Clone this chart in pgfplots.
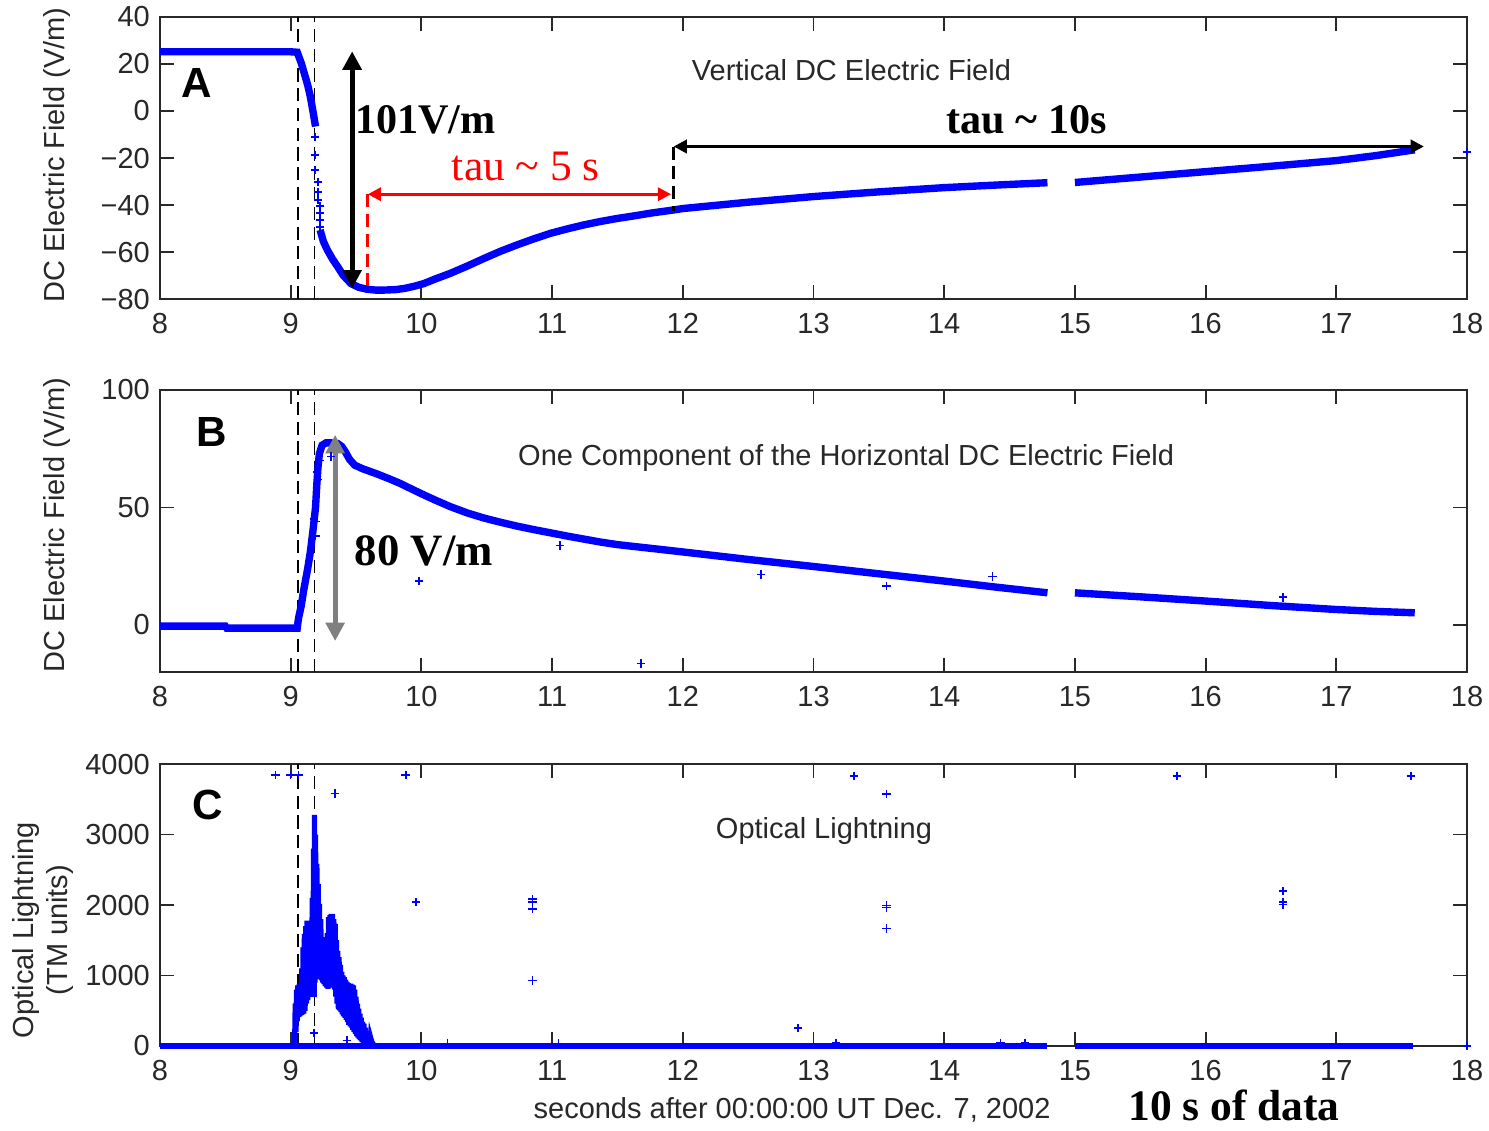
\documentclass[border=0pt]{standalone}
\usepackage{fontspec}
\setmainfont{Liberation Sans}
\newfontfamily\annot{Liberation Serif}
\usepackage{pgfplots}
\pgfplotsset{compat=1.18}
\usetikzlibrary{arrows.meta}
\definecolor{mblue}{RGB}{0,0,255}
\definecolor{axgray}{RGB}{40,40,40}
\definecolor{arrgray}{RGB}{128,128,128}

\pgfplotsset{
  panel/.style={
    scale only axis, width=17.4267cm, height=3.76cm, anchor=north west,
    xmin=8, xmax=18, xtick={8,...,18},
    xticklabels={8,9,10,11,12,13,14,15,16,17,18},
    tick align=inside, major tick length=5.3pt,
    axis line style={axgray, line width=0.7pt},
    tick style={axgray, line width=0.7pt},
    ticklabel style={text=axgray, font=\fontsize{11}{13}\selectfont},
    xticklabel style={yshift=-1.5pt},
    clip=false,
  },
  band/.style={mblue, line width=2.8pt, no marks},
  pts/.style={only marks, mark=+, mark size=1.6pt, mblue, mark options={line width=0.6pt}},
}
\tikzset{
  vdash/.style={black, line width=0.65pt, dash pattern=on 5pt off 2.5pt},
  lett/.style={font=\fontsize{16}{18}\selectfont\bfseries},
  ttl/.style={text=axgray, font=\fontsize{11}{13}\selectfont},
}

\begin{document}
\fontsize{11}{13}\selectfont
\begin{tikzpicture}
\path[use as bounding box] (0,0) rectangle (19.8533,-15.0667);

% ---------- A: vertical field
\begin{axis}[panel, at={(2.1333cm,-0.2267cm)},
  ymin=-80, ymax=40, ytick={-80,-60,...,40},
  yticklabels={−80,−60,−40,−20,0,20,40}]
\draw[vdash] (axis cs:9.055,-80) -- (axis cs:9.055,40);
\draw[vdash] (axis cs:9.182,-80) -- (axis cs:9.182,40);
\addplot[band] coordinates {
(8.00,25.2) (8.50,25.2) (9.00,25.2) (9.05,25.0) (9.08,20.5) (9.10,16.8)
(9.13,11.0) (9.15,6.2) (9.17,0.0) (9.19,-6.6)
};
\addplot[band] coordinates {
(9.225,-50.6) (9.25,-55.5) (9.28,-59.1) (9.32,-63.0) (9.36,-66.3) (9.40,-69.8)
(9.46,-73.4) (9.52,-75.0) (9.58,-75.8) (9.65,-76.2) (9.71,-76.2) (9.80,-76.0)
(9.87,-75.5) (9.95,-74.5) (10.02,-73.4) (10.10,-71.6) (10.22,-69.1) (10.35,-66.0)
(10.48,-62.7) (10.60,-59.8) (10.73,-57.0) (10.86,-54.4) (10.99,-52.0) (11.12,-50.1)
(11.24,-48.5) (11.37,-47.0) (11.50,-45.7) (11.63,-44.6) (11.76,-43.4) (11.93,-42.1)
(12.00,-41.5) (12.50,-38.8) (13.00,-36.4) (13.50,-34.4) (14.00,-32.6) (14.40,-31.5)
(14.79,-30.5)
};
\addplot[band] coordinates {
(15.00,-30.4) (15.50,-28.1) (16.00,-25.8) (16.50,-23.5) (17.00,-21.1) (17.30,-19.0)
(17.60,-16.5)
};
\addplot[pts] coordinates {
(9.186,-11.1) (9.186,-18.7) (9.186,-25.1) (9.209,-30.2) (9.209,-34.5) (9.209,-37.9)
(9.224,-40.5) (9.224,-43.4) (9.224,-46.4) (9.224,-49.4) (18.0,-17.4)
};
\draw[black, line width=1.9pt, {Triangle[length=7pt,width=7pt]}-{Triangle[length=7pt,width=7pt]}]
  (axis cs:9.47,25.4) -- (axis cs:9.47,-75.5);
\draw[red, line width=1.2pt, dash pattern=on 5pt off 2.5pt] (axis cs:9.59,-35.4) -- (axis cs:9.59,-76.2);
\draw[red, line width=1.1pt, {Triangle[length=5pt,width=5pt]}-{Triangle[length=5pt,width=5pt]}]
  (axis cs:9.59,-35.4) -- (axis cs:11.91,-35.4);
\draw[black, line width=1.1pt, dash pattern=on 5pt off 2.5pt] (axis cs:11.93,-15.1) -- (axis cs:11.93,-42.4);
\draw[black, line width=1.2pt, {Triangle[length=5pt,width=5pt]}-{Triangle[length=5pt,width=5pt]}]
  (axis cs:11.93,-15.1) -- (axis cs:17.67,-15.1);
\node[lett] at (axis cs:8.283,11.9) {A};
\node[ttl] at (axis cs:13.29,17.4) {Vertical DC Electric Field};
\node[font=\annot\bfseries\fontsize{16}{18}\selectfont] at (axis cs:10.03,-3.8) {101V/m};
\node[font=\annot\bfseries\fontsize{16}{18}\selectfont] at (axis cs:14.63,-3.8) {tau \textasciitilde\ 10s};
\node[red, font=\annot\fontsize{16.5}{18}\selectfont] at (axis cs:10.80,-23.8) {tau \textasciitilde\ 5 s};
\node[rotate=90, ttl] at (rel axis cs:-0.0788,0.511) {DC Electric Field (V/m)};
\end{axis}

% ---------- B: horizontal field
\begin{axis}[panel, at={(2.1333cm,-5.2cm)},
  ymin=-20, ymax=100, ytick={0,50,100}, yticklabels={0,50,100}]
\draw[vdash] (axis cs:9.055,-20) -- (axis cs:9.055,100);
\draw[vdash] (axis cs:9.182,-20) -- (axis cs:9.182,100);
\addplot[band] coordinates {
(8.00,-0.5) (8.50,-0.5) (8.51,-1.3) (9.05,-1.3)
(9.06,3.0) (9.08,8.0) (9.10,15.0) (9.13,24.0) (9.15,31.0) (9.17,40.0) (9.19,50.0)
(9.20,60.0) (9.21,68.0) (9.22,73.0) (9.24,76.5) (9.27,77.5) (9.31,77.5) (9.36,77.2)
(9.39,76.0) (9.42,73.5) (9.45,70.5) (9.49,68.0) (9.55,66.5) (9.65,64.5) (9.75,62.3)
(9.84,60.2) (9.92,58.0) (10.01,55.6) (10.10,53.3) (10.22,50.4) (10.35,47.7)
(10.48,45.5) (10.60,43.8) (10.73,42.1) (10.86,40.6) (10.99,39.2) (11.12,37.8)
(11.24,36.6) (11.37,35.3) (11.50,34.2) (11.76,32.6) (12.00,31.1) (12.50,27.9)
(13.00,24.9) (13.50,21.8) (14.00,18.7) (14.40,16.1) (14.79,13.7)
};
\addplot[band] coordinates {
(15.00,13.7) (15.50,12.0) (16.00,10.2) (16.50,8.3) (17.00,6.6) (17.30,5.8) (17.60,5.2)
};
\addplot[pts] coordinates {
(9.19,44) (9.19,38) (9.20,65) (9.21,62) (9.22,70) (9.31,71.7) (9.18,45)
(9.98,18.7) (11.06,33.9) (11.68,-16.3) (12.60,21.5) (13.56,16.5) (14.37,20.7) (16.59,11.8)
};
\draw[arrgray, line width=1.9pt, {Triangle[length=7pt,width=7pt]}-{Triangle[length=7pt,width=7pt]}]
  (axis cs:9.34,80.9) -- (axis cs:9.34,-6.8);
\node[lett] at (axis cs:8.398,82.1) {B};
\node[ttl] at (axis cs:13.25,71.1) {One Component of the Horizontal DC Electric Field};
\node[font=\annot\bfseries\fontsize{17}{19}\selectfont] at (axis cs:10.02,31.5) {80 V/m};
\node[rotate=90, ttl] at (rel axis cs:-0.0788,0.521) {DC Electric Field (V/m)};
\end{axis}

% ---------- C: optical lightning
\begin{axis}[panel, at={(2.1333cm,-10.1867cm)},
  ymin=0, ymax=4000, ytick={0,1000,...,4000}, yticklabels={0,1000,2000,3000,4000}]
\draw[vdash] (axis cs:9.055,0) -- (axis cs:9.055,4000);
\draw[vdash] (axis cs:9.182,0) -- (axis cs:9.182,4000);
\addplot[band, line width=2.6pt] coordinates {(8.00,0) (14.79,0)};
\addplot[band, line width=2.6pt] coordinates {(15.00,0) (17.59,0)};
\addplot[mblue, line width=2pt, no marks] coordinates {
(9.030,0) (9.035,600) (9.040,200) (9.045,800) (9.050,350) (9.055,860) (9.060,411)
(9.065,880) (9.070,420) (9.075,883) (9.080,440) (9.085,1100) (9.090,450) (9.095,1400)
(9.100,458) (9.105,1590) (9.110,500) (9.115,1700) (9.120,600) (9.125,1780) (9.130,650)
(9.135,1780) (9.140,741) (9.145,1780) (9.150,720) (9.155,1780) (9.160,700) (9.165,2100)
(9.170,694) (9.175,2800) (9.180,694) (9.182,3278) (9.185,900) (9.190,3000) (9.195,950)
(9.200,2583) (9.205,978) (9.210,2300) (9.215,960) (9.220,2017) (9.225,950) (9.230,1800)
(9.235,930) (9.240,1544) (9.245,900) (9.250,1500) (9.255,880) (9.260,1460) (9.265,850)
(9.270,1450) (9.275,830) (9.280,1600) (9.285,812) (9.290,1828) (9.295,830) (9.300,1860)
(9.305,836) (9.310,1875) (9.315,840) (9.320,1875) (9.325,830) (9.330,1800) (9.335,800)
(9.340,1733) (9.345,700) (9.350,1500) (9.355,600) (9.360,1350) (9.365,520) (9.370,1261)
(9.375,505) (9.380,1150) (9.385,480) (9.390,1050) (9.395,450) (9.400,1000) (9.405,420)
(9.410,978) (9.415,400) (9.420,940) (9.425,370) (9.430,910) (9.435,340) (9.440,890)
(9.445,300) (9.450,883) (9.455,280) (9.460,883) (9.465,260) (9.470,870) (9.475,230)
(9.480,860) (9.485,200) (9.490,800) (9.495,170) (9.500,700) (9.505,140) (9.510,600)
(9.515,120) (9.520,530) (9.525,100) (9.530,460) (9.535,80) (9.540,400) (9.545,60)
(9.550,340) (9.555,40) (9.560,316) (9.565,30) (9.570,260) (9.575,20) (9.580,210)
(9.585,10) (9.590,170) (9.595,0) (9.600,140) (9.605,0) (9.610,128) (9.620,60)
(9.630,30) (9.640,0)
};
\addplot[pts] coordinates {
(8.885,3844) (9.00,3844) (9.06,3844) (9.88,3844) (9.34,3584) (9.18,184) (9.43,80)
(9.96,2040) (10.85,2087) (10.85,2040) (10.85,1946) (10.85,930) (10.20,33) (11.05,33)
(13.31,3831) (13.56,3572) (13.56,1995) (13.56,1962) (13.56,1666) (12.88,254)
(15.78,3831) (16.59,2198) (16.59,2042) (16.59,2009) (17.57,3831) (18.00,0)
(13.17,40) (14.43,40) (14.62,40)
};
\node[lett] at (axis cs:8.367,3418) {C};
\node[ttl] at (axis cs:13.08,3050) {Optical Lightning};
\node[rotate=90, ttl, align=center] at (rel axis cs:-0.0895,0.411) {Optical Lightning\\(TM units)};
\node[ttl] at (rel axis cs:0.4836,-0.227) {seconds after 00:00:00 UT Dec. 7, 2002};
\node[font=\annot\bfseries\fontsize{16.5}{18}\selectfont] at (rel axis cs:0.8217,-0.212) {10 s of data};
\end{axis}
\end{tikzpicture}
\end{document}
